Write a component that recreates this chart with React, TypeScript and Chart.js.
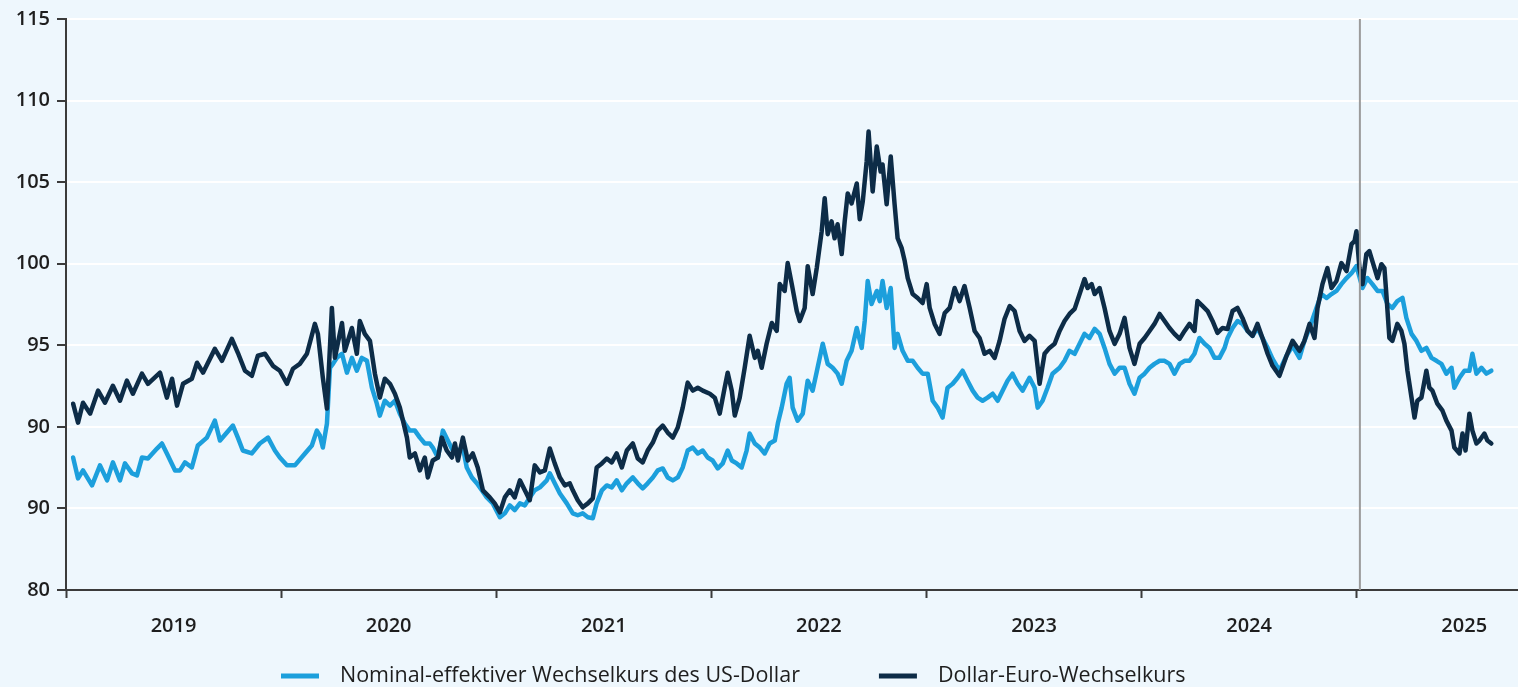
import React, { useEffect, useRef } from 'react';
import { Chart, registerables } from 'chart.js';

Chart.register(...registerables);

// ---- axis definitions ----
const yTickValues = [80, 85, 90, 95, 100, 105, 110, 115];
const yTickLabels = ['80', '90', '90', '95', '100', '105', '110', '115'];
const yearBoundaries = [2019, 2020, 2021, 2022, 2023, 2024, 2025];
const yearLabelPositions = [2019.5, 2020.5, 2021.5, 2022.5, 2023.5, 2024.5, 2025.5];
const yearLabels = ['2019', '2020', '2021', '2022', '2023', '2024', '2025'];
const xRange = [2019, 2025.75];
const yRange = [80, 115];
const markerYears = [2025.015];
const seriesNames = ['Nominal-effektiver Wechselkurs des US-Dollar', 'Dollar-Euro-Wechselkurs'];

// ---- series: [decimal year, index value] ----
const nominalSeries: [number, number][] = [
  [2019.033,88.12],[2019.056,86.84],[2019.079,87.33],[2019.121,86.41],[2019.158,87.64],[2019.191,86.72],[2019.218,87.82],[2019.251,86.72],[2019.274,87.76],[2019.307,87.15],[2019.330,87.03],[2019.353,88.12],[2019.381,88.06],[2019.423,88.67],[2019.446,88.98],[2019.469,88.37],[2019.507,87.33],[2019.530,87.33],[2019.553,87.82],[2019.585,87.51],[2019.613,88.86],[2019.655,89.34],[2019.692,90.38],[2019.716,89.16],[2019.748,89.65],[2019.776,90.08],[2019.799,89.34],[2019.822,88.55],[2019.864,88.37],[2019.901,88.98],[2019.939,89.34],[2019.971,88.55],[2019.994,88.12],
  [2020.027,87.64],[2020.064,87.64],[2020.111,88.37],[2020.143,88.86],[2020.166,89.77],[2020.180,89.47],[2020.194,88.73],[2020.213,90.20],[2020.227,93.62],[2020.241,93.86],[2020.259,94.23],[2020.283,94.48],[2020.306,93.32],[2020.329,94.23],[2020.352,93.44],[2020.375,94.23],[2020.399,94.05],[2020.422,92.40],[2020.445,91.42],[2020.459,90.69],[2020.482,91.60],[2020.506,91.30],[2020.529,91.60],[2020.552,90.81],[2020.575,90.20],[2020.598,89.77],[2020.622,89.77],[2020.645,89.34],[2020.668,88.98],[2020.691,88.98],[2020.705,88.73],[2020.729,88.12],[2020.752,89.77],[2020.775,89.16],[2020.798,88.55],[2020.822,88.55],[2020.845,88.73],[2020.863,87.51],[2020.887,86.90],[2020.910,86.54],[2020.933,86.11],[2020.956,85.68],[2020.984,85.31],
  [2021.017,84.46],[2021.040,84.70],[2021.063,85.19],[2021.086,84.89],[2021.110,85.31],[2021.133,85.19],[2021.156,85.68],[2021.179,86.11],[2021.203,86.29],[2021.235,86.72],[2021.249,87.15],[2021.272,86.54],[2021.296,85.92],[2021.328,85.31],[2021.356,84.70],[2021.379,84.58],[2021.402,84.70],[2021.426,84.46],[2021.449,84.40],[2021.467,85.31],[2021.491,86.11],[2021.514,86.41],[2021.537,86.29],[2021.560,86.72],[2021.584,86.11],[2021.607,86.54],[2021.635,86.90],[2021.658,86.54],[2021.681,86.23],[2021.704,86.54],[2021.728,86.90],[2021.751,87.33],[2021.774,87.45],[2021.797,86.90],[2021.821,86.72],[2021.844,86.90],[2021.867,87.51],[2021.890,88.55],[2021.914,88.73],[2021.937,88.37],[2021.960,88.55],[2021.983,88.12],
  [2022.006,87.94],[2022.030,87.45],[2022.053,87.76],[2022.076,88.55],[2022.095,87.94],[2022.118,87.76],[2022.141,87.51],[2022.164,88.55],[2022.178,89.59],[2022.202,88.98],[2022.225,88.73],[2022.248,88.37],[2022.271,88.98],[2022.295,89.16],[2022.309,90.20],[2022.327,91.18],[2022.350,92.64],[2022.364,93.01],[2022.378,91.18],[2022.401,90.38],[2022.425,90.81],[2022.448,92.83],[2022.471,92.22],[2022.494,93.62],[2022.518,95.09],[2022.541,93.86],[2022.564,93.62],[2022.587,93.26],[2022.606,92.64],[2022.629,94.05],[2022.652,94.66],[2022.676,96.06],[2022.699,94.84],[2022.713,96.49],[2022.727,98.94],[2022.745,97.53],[2022.769,98.33],[2022.783,97.71],[2022.796,98.94],[2022.815,97.29],[2022.834,98.51],[2022.852,94.84],[2022.866,95.70],[2022.889,94.66],[2022.913,94.05],[2022.936,94.05],[2022.959,93.62],[2022.982,93.26],
  [2023.006,93.26],[2023.029,91.60],[2023.052,91.18],[2023.075,90.57],[2023.098,92.40],[2023.122,92.64],[2023.145,93.01],[2023.168,93.44],[2023.191,92.83],[2023.215,92.22],[2023.238,91.79],[2023.261,91.60],[2023.284,91.79],[2023.308,92.03],[2023.331,91.60],[2023.354,92.22],[2023.377,92.83],[2023.400,93.26],[2023.424,92.64],[2023.447,92.22],[2023.479,93.01],[2023.503,92.40],[2023.517,91.18],[2023.540,91.60],[2023.563,92.40],[2023.586,93.26],[2023.619,93.62],[2023.642,94.05],[2023.665,94.66],[2023.689,94.48],[2023.712,95.09],[2023.735,95.70],[2023.758,95.45],[2023.782,96.00],[2023.805,95.70],[2023.828,94.84],[2023.851,93.86],[2023.875,93.26],[2023.898,93.62],[2023.921,93.62],[2023.944,92.64],[2023.967,92.03],[2023.991,93.01],
  [2024.014,93.26],[2024.037,93.62],[2024.060,93.86],[2024.084,94.05],[2024.107,94.05],[2024.130,93.86],[2024.153,93.26],[2024.177,93.86],[2024.200,94.05],[2024.223,94.05],[2024.246,94.48],[2024.269,95.45],[2024.293,95.09],[2024.316,94.84],[2024.339,94.23],[2024.362,94.23],[2024.386,94.84],[2024.400,95.45],[2024.423,96.06],[2024.446,96.49],[2024.469,96.31],[2024.493,95.88],[2024.516,95.58],[2024.539,96.06],[2024.562,95.45],[2024.586,94.84],[2024.609,94.17],[2024.641,93.44],[2024.674,94.36],[2024.702,94.97],[2024.734,94.23],[2024.757,95.27],[2024.781,96.06],[2024.813,97.29],[2024.836,98.14],[2024.860,97.90],[2024.883,98.14],[2024.906,98.33],[2024.929,98.75],[2024.953,99.12],[2024.976,99.42],[2024.999,99.85],
  [2025.027,98.51],[2025.050,99.12],[2025.073,98.75],[2025.097,98.33],[2025.120,98.33],[2025.143,97.53],[2025.166,97.29],[2025.189,97.71],[2025.213,97.90],[2025.231,96.68],[2025.255,95.70],[2025.278,95.27],[2025.301,94.66],[2025.324,94.84],[2025.348,94.23],[2025.371,94.05],[2025.394,93.86],[2025.417,93.26],[2025.441,93.62],[2025.454,92.40],[2025.478,93.01],[2025.501,93.44],[2025.524,93.44],[2025.538,94.48],[2025.557,93.26],[2025.580,93.62],[2025.603,93.26],[2025.626,93.44],
];

const dollarEuroSeries: [number, number][] = [
  [2019.033,91.42],[2019.056,90.26],[2019.079,91.48],[2019.112,90.81],[2019.149,92.22],[2019.181,91.48],[2019.218,92.52],[2019.251,91.60],[2019.283,92.83],[2019.311,92.03],[2019.353,93.26],[2019.381,92.64],[2019.437,93.32],[2019.469,91.79],[2019.493,92.95],[2019.516,91.30],[2019.544,92.64],[2019.585,92.95],[2019.609,93.93],[2019.637,93.32],[2019.692,94.78],[2019.725,94.05],[2019.771,95.39],[2019.799,94.54],[2019.832,93.44],[2019.864,93.13],[2019.892,94.36],[2019.925,94.48],[2019.962,93.74],[2019.994,93.44],
  [2020.027,92.64],[2020.055,93.56],[2020.087,93.86],[2020.120,94.48],[2020.157,96.31],[2020.171,95.70],[2020.194,93.01],[2020.213,91.12],[2020.236,97.29],[2020.250,94.23],[2020.283,96.37],[2020.296,94.66],[2020.329,96.06],[2020.352,94.48],[2020.366,96.49],[2020.389,95.70],[2020.413,95.27],[2020.436,93.26],[2020.459,91.79],[2020.482,92.95],[2020.506,92.64],[2020.529,92.03],[2020.552,91.18],[2020.585,89.34],[2020.598,88.12],[2020.622,88.37],[2020.645,87.33],[2020.668,88.12],[2020.682,86.90],[2020.705,87.94],[2020.729,88.12],[2020.747,89.34],[2020.770,88.55],[2020.794,88.12],[2020.808,88.98],[2020.822,87.94],[2020.845,89.34],[2020.868,87.94],[2020.891,88.37],[2020.914,87.51],[2020.938,86.11],[2020.970,85.68],[2020.993,85.31],
  [2021.017,84.76],[2021.040,85.68],[2021.063,86.11],[2021.086,85.68],[2021.110,86.72],[2021.133,86.11],[2021.156,85.50],[2021.179,87.64],[2021.203,87.21],[2021.226,87.33],[2021.249,88.67],[2021.272,87.76],[2021.296,86.90],[2021.319,86.41],[2021.342,86.54],[2021.356,86.11],[2021.379,85.50],[2021.402,85.07],[2021.426,85.31],[2021.449,85.62],[2021.467,87.51],[2021.491,87.76],[2021.514,88.06],[2021.537,87.82],[2021.560,88.37],[2021.584,87.51],[2021.607,88.55],[2021.635,88.98],[2021.658,88.06],[2021.681,87.82],[2021.704,88.55],[2021.728,89.04],[2021.751,89.77],[2021.774,90.08],[2021.797,89.65],[2021.821,89.34],[2021.844,89.96],[2021.867,91.18],[2021.890,92.71],[2021.914,92.22],[2021.937,92.40],[2021.960,92.22],[2021.993,92.03],
  [2022.016,91.79],[2022.039,90.81],[2022.062,92.40],[2022.076,93.32],[2022.095,92.22],[2022.109,90.69],[2022.132,91.79],[2022.155,93.62],[2022.178,95.58],[2022.202,94.23],[2022.216,94.66],[2022.234,93.62],[2022.257,95.09],[2022.281,96.37],[2022.304,95.88],[2022.318,98.75],[2022.341,98.33],[2022.355,100.04],[2022.374,98.75],[2022.397,97.10],[2022.411,96.49],[2022.434,97.29],[2022.448,99.85],[2022.471,98.14],[2022.490,99.73],[2022.513,101.99],[2022.527,104.01],[2022.541,101.81],[2022.559,102.60],[2022.573,101.56],[2022.587,102.42],[2022.606,100.59],[2022.620,102.60],[2022.634,104.31],[2022.652,103.70],[2022.676,104.92],[2022.690,102.72],[2022.704,103.82],[2022.722,106.27],[2022.731,108.10],[2022.750,104.43],[2022.769,107.18],[2022.787,105.65],[2022.796,106.08],[2022.815,103.64],[2022.834,106.57],[2022.852,103.64],[2022.866,101.56],[2022.885,100.95],[2022.899,100.16],[2022.913,99.12],[2022.936,98.14],[2022.959,97.90],[2022.982,97.59],
  [2023.001,98.75],[2023.015,97.29],[2023.038,96.31],[2023.061,95.70],[2023.085,96.98],[2023.108,97.29],[2023.131,98.51],[2023.154,97.71],[2023.177,98.63],[2023.201,97.29],[2023.224,95.88],[2023.247,95.45],[2023.270,94.48],[2023.294,94.66],[2023.317,94.23],[2023.340,95.27],[2023.363,96.61],[2023.387,97.41],[2023.410,97.10],[2023.433,95.88],[2023.456,95.27],[2023.479,95.58],[2023.503,95.27],[2023.526,92.64],[2023.549,94.48],[2023.572,94.84],[2023.596,95.09],[2023.619,95.88],[2023.642,96.49],[2023.665,96.92],[2023.689,97.23],[2023.712,98.14],[2023.735,99.06],[2023.749,98.51],[2023.768,98.75],[2023.782,98.14],[2023.805,98.51],[2023.828,97.29],[2023.851,95.88],[2023.875,95.09],[2023.898,95.70],[2023.921,96.68],[2023.944,94.84],[2023.967,93.86],[2023.991,95.09],
  [2024.014,95.45],[2024.037,95.88],[2024.060,96.31],[2024.084,96.92],[2024.107,96.49],[2024.130,96.06],[2024.153,95.70],[2024.177,95.39],[2024.200,95.88],[2024.223,96.31],[2024.246,95.88],[2024.260,97.71],[2024.283,97.41],[2024.307,97.10],[2024.330,96.49],[2024.353,95.76],[2024.376,96.06],[2024.400,96.00],[2024.423,97.10],[2024.446,97.29],[2024.469,96.68],[2024.493,95.88],[2024.516,95.58],[2024.539,96.31],[2024.562,95.45],[2024.586,94.48],[2024.609,93.74],[2024.641,93.13],[2024.674,94.36],[2024.702,95.27],[2024.734,94.66],[2024.757,95.27],[2024.781,96.31],[2024.804,95.45],[2024.818,97.29],[2024.841,98.75],[2024.864,99.73],[2024.883,98.51],[2024.906,98.94],[2024.929,100.04],[2024.953,99.55],[2024.976,101.20],[2024.990,101.38],[2024.999,101.99],
  [2025.013,99.73],[2025.027,98.75],[2025.045,100.59],[2025.059,100.77],[2025.073,100.16],[2025.097,99.12],[2025.115,99.97],[2025.129,99.73],[2025.138,98.14],[2025.152,95.45],[2025.166,95.27],[2025.189,96.31],[2025.208,95.88],[2025.222,95.09],[2025.236,93.44],[2025.255,91.79],[2025.269,90.57],[2025.282,91.60],[2025.301,91.79],[2025.324,93.44],[2025.338,92.40],[2025.352,92.22],[2025.375,91.42],[2025.399,90.99],[2025.417,90.38],[2025.441,89.77],[2025.454,88.73],[2025.478,88.37],[2025.492,89.59],[2025.506,88.55],[2025.524,90.81],[2025.538,89.77],[2025.557,88.98],[2025.571,89.16],[2025.594,89.59],[2025.608,89.16],[2025.626,88.98],
];

// ---- styling ----
const BG = '#eef7fd';
const LIGHT = '#1c9fdc';
const DARK = '#0d2c47';
const AXIS = '#3b3b3b';
const TEXT = '#1e1e1e';
const FONT = '"Open Sans", "DejaVu Sans", sans-serif';

const isInt = (v: number) => Math.abs(v - Math.round(v)) < 1e-6;

const backgroundPlugin = {
  id: 'bgFill',
  beforeDraw(chart: any) {
    const { ctx, width, height } = chart;
    ctx.save();
    ctx.fillStyle = BG;
    ctx.fillRect(0, 0, width, height);
    ctx.restore();
  },
};

const markerPlugin = {
  id: 'markerLine',
  afterDatasetsDraw(chart: any) {
    const { ctx, chartArea, scales } = chart;
    ctx.save();
    ctx.strokeStyle = '#9b9b9b';
    ctx.lineWidth = 2;
    markerYears.forEach((yr) => {
      const x = scales.x.getPixelForValue(yr);
      ctx.beginPath();
      ctx.moveTo(x, chartArea.top);
      ctx.lineTo(x, chartArea.bottom);
      ctx.stroke();
    });
    ctx.restore();
  },
};

const legendPlugin = {
  id: 'bottomLegend',
  afterDraw(chart: any) {
    const { ctx } = chart;
    const items = [
      { label: seriesNames[0], color: LIGHT },
      { label: seriesNames[1], color: DARK },
    ];
    ctx.save();
    ctx.font = `500 21.5px ${FONT}`;
    ctx.textBaseline = 'middle';
    ctx.textAlign = 'left';
    const y = 676;
    let x = 281;
    items.forEach((it) => {
      ctx.fillStyle = it.color;
      ctx.fillRect(x, y - 2.5, 38, 5);
      ctx.fillStyle = TEXT;
      const tx = x + 59;
      ctx.fillText(it.label, tx, y);
      x = tx + ctx.measureText(it.label).width + 79;
    });
    ctx.restore();
  },
};

export default function App() {
  const canvasRef = useRef<HTMLCanvasElement | null>(null);

  useEffect(() => {
    document.body.style.margin = '0';
    const canvas = canvasRef.current;
    if (!canvas) return;
    const chart = new Chart(canvas, {
      type: 'line',
      data: {
        datasets: [
          {
            label: seriesNames[1],
            data: dollarEuroSeries.map(([x, y]) => ({ x, y })),
            borderColor: DARK,
            backgroundColor: DARK,
            borderWidth: 4.5,
            pointRadius: 0,
            tension: 0,
            borderJoinStyle: 'round',
            borderCapStyle: 'round',
          },
          {
            label: seriesNames[0],
            data: nominalSeries.map(([x, y]) => ({ x, y })),
            borderColor: LIGHT,
            backgroundColor: LIGHT,
            borderWidth: 4.5,
            pointRadius: 0,
            tension: 0,
            borderJoinStyle: 'round',
            borderCapStyle: 'round',
          },
        ],
      },
      options: {
        responsive: false,
        animation: false,
        layout: { padding: { top: 17, left: 0, right: 0, bottom: 0 } },
        plugins: {
          legend: { display: false },
          tooltip: { enabled: false },
        },
        scales: {
          x: {
            type: 'linear',
            min: xRange[0],
            max: xRange[1],
            afterBuildTicks: (scale: any) => {
              const vals = [...yearBoundaries, ...yearLabelPositions].sort((a, b) => a - b);
              scale.ticks = vals.map((v) => ({ value: v }));
            },
            afterFit: (scale: any) => {
              scale.height = 97;
            },
            ticks: {
              autoSkip: false,
              maxRotation: 0,
              padding: 16,
              color: TEXT,
              font: { family: FONT, size: 20, weight: '600' },
              callback: (value: any) => {
                const i = yearLabelPositions.findIndex((p) => Math.abs(p - Number(value)) < 1e-6);
                return i >= 0 ? yearLabels[i] : '';
              },
            },
            grid: {
              drawOnChartArea: false,
              drawTicks: true,
              tickLength: 8,
              tickWidth: 2,
              tickColor: (ctx: any) => (ctx.tick && isInt(ctx.tick.value) ? AXIS : 'rgba(0,0,0,0)'),
            },
            border: { display: true, color: AXIS, width: 2 },
          },
          y: {
            type: 'linear',
            min: yRange[0],
            max: yRange[1],
            afterBuildTicks: (scale: any) => {
              scale.ticks = yTickValues.map((v) => ({ value: v }));
            },
            afterFit: (scale: any) => {
              scale.width = 66;
            },
            ticks: {
              padding: 7,
              color: TEXT,
              font: { family: FONT, size: 20, weight: '600' },
              callback: (_v: any, index: number) => yTickLabels[index],
            },
            grid: {
              color: 'rgba(255,255,255,0.95)',
              lineWidth: 2,
              drawTicks: true,
              tickLength: 9,
              tickWidth: 2,
              tickColor: AXIS,
            },
            border: { display: true, color: AXIS, width: 2 },
          },
        },
      },
      plugins: [backgroundPlugin, markerPlugin, legendPlugin],
    } as any);
    return () => chart.destroy();
  }, []);

  return (
    <div style={{ position: 'fixed', left: 0, top: 0, width: 1518, height: 687, background: BG }}>
      <canvas ref={canvasRef} width={1518} height={687} style={{ display: 'block' }} />
    </div>
  );
}
